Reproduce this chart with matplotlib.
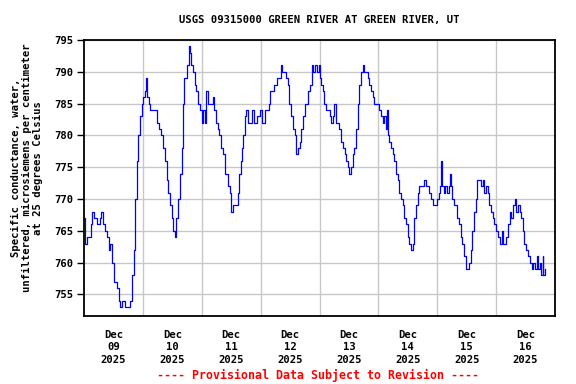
import matplotlib
matplotlib.use("Agg")
import matplotlib.pyplot as plt

# hours since 2025-12-09 00:00 and specific conductance (uS/cm)
hours = [0.0, 0.3, 1.4, 2.0, 2.7, 3.4, 4.0, 5.4, 6.5, 7.1, 7.8, 8.4, 9.4, 10.1, 10.8,
         11.5, 12.1, 12.8, 13.5, 14.2, 14.8, 15.5, 16.2, 16.8, 18.2, 18.9, 19.5, 20.2,
         20.9, 21.6, 22.2, 22.9, 23.6, 24.0, 24.7, 25.2, 25.6, 26.3, 27.0, 28.3, 29.7,
         30.7, 31.3, 32.4, 33.0, 33.7, 34.4, 35.0, 35.7, 36.4, 37.1, 37.7, 38.4, 39.1,
         39.8, 40.4, 40.8, 41.8, 42.6, 43.1, 43.8, 44.5, 45.2, 45.8, 46.5, 47.2,
         48.0, 48.6, 49.4, 49.9, 50.6, 51.7, 52.4, 53.1, 53.8, 54.5, 55.2, 55.9, 56.6,
         57.3, 58.0, 58.7, 59.4, 60.1, 60.8, 61.9, 62.6, 63.3, 63.8, 64.4, 64.9, 65.5,
         65.9, 67.0, 68.4, 69.1, 70.5, 71.9, 72.6, 73.9, 75.3, 76.0, 77.4, 78.8, 80.2,
         80.9, 82.3, 83.0, 83.7, 84.4, 85.2, 85.9, 86.6, 87.2, 87.9, 88.6, 89.3, 90.0,
         90.7, 91.4, 92.1, 92.8, 93.5, 94.2, 94.9, 95.6, 96.2,
         96.7, 97.4, 98.0, 98.7, 100.1, 100.7, 101.4, 102.1, 102.8, 103.5, 104.1,
         104.8, 105.5, 106.2, 106.8, 107.5, 108.2, 108.9, 109.6, 110.2, 110.9, 111.6,
         112.3, 113.0, 113.6, 114.3, 115.0, 115.7, 116.3, 117.0, 117.7, 118.4, 119.7,
         120.4, 121.1, 121.8, 122.4, 123.1, 123.5, 123.8, 124.5, 125.2, 125.8, 126.5,
         127.2, 127.9, 128.5, 129.2, 129.9, 130.6, 131.3, 131.9, 132.6, 133.3, 134.0,
         134.6, 135.3, 136.0, 136.7, 138.0, 138.7, 139.4, 140.1, 140.7, 141.4, 142.1,
         142.8, 143.2, 143.9, 144.6, 145.2, 145.7, 146.0, 146.6, 147.3, 148.0, 148.7,
         149.4, 149.8, 150.1, 150.8, 151.4, 152.1, 152.8, 153.5, 154.2, 154.9, 155.6,
         156.3, 157.0, 157.7, 158.3, 159.0, 159.7, 160.4, 161.1, 161.8, 162.5, 163.2,
         163.9, 164.5, 165.2, 165.9, 166.6, 167.3, 168.0, 168.7, 169.4, 170.1, 170.5,
         171.0, 171.9, 172.8, 173.5, 174.2, 174.9, 175.6, 176.2, 176.9, 177.6, 178.1,
         178.8, 179.3, 180.1, 181.1, 181.8, 182.5, 183.2, 183.9, 184.8, 185.2, 185.9,
         186.3, 187.0, 187.3, 188.0]
values = [767, 763, 764, 764, 766, 768, 767, 766, 767, 768, 766, 765, 764, 762, 763,
          760, 757, 757, 756, 754, 753, 754, 754, 753, 753, 754, 758, 762,
          770, 776, 780, 783, 785, 786, 787, 789, 786, 785, 784, 784, 782,
          781, 780, 778, 776, 773, 771, 769, 767, 765, 764, 767, 770, 774,
          778, 785, 789, 791, 794, 793, 791, 790, 788, 787, 785, 784,
          782, 784, 782, 787, 785, 785, 786, 784, 782, 781, 780, 778, 777,
          774, 774, 772, 771, 768, 769, 769, 771, 774, 776, 778, 780, 783,
          784, 782, 784, 782, 783, 784, 782, 784, 785, 787, 788, 789, 791,
          790, 789, 788, 785, 783, 781, 780, 777, 778, 779, 781, 783, 785,
          785, 787, 788, 791, 790, 791, 790, 791, 789,
          788, 787, 785, 784, 783, 782, 783, 785, 782, 782, 781,
          779, 778, 777, 776, 775, 774, 775, 777, 778, 781, 785,
          788, 790, 791, 790, 790, 789, 788, 787, 786, 785, 785,
          784, 783, 782, 783, 781, 784, 780, 779, 778, 777, 776,
          774, 773, 771, 770, 769, 767, 766, 764, 763, 762, 763,
          767, 769, 771, 772, 772, 773, 772, 772, 771, 770, 769,
          769, 769, 770, 771, 772, 776, 772, 771, 772, 771, 772,
          774, 772, 770, 769, 769, 767, 766, 764, 763, 761, 759,
          759, 760, 762, 765, 768, 770, 773, 773, 772, 773, 771,
          772, 771, 769, 768, 767, 766, 765, 764, 763, 763, 765,
          763, 764, 766, 768, 767, 769, 770, 768, 769, 768, 767,
          765, 763, 762, 761, 760, 759, 760, 759, 761, 759, 760,
          758, 761, 758, 759]

day_labels = ["Dec\n09\n2025", "Dec\n10\n2025", "Dec\n11\n2025", "Dec\n12\n2025",
              "Dec\n13\n2025", "Dec\n14\n2025", "Dec\n15\n2025", "Dec\n16\n2025"]
y_ticks = [755, 760, 765, 770, 775, 780, 785, 790, 795]

mono = "DejaVu Sans Mono"
fs = 7.6

fig = plt.figure(figsize=(5.76, 3.84), dpi=100)
ax = fig.add_axes([84 / 576, 1 - 316 / 384, 471 / 576, 276 / 384])

ax.plot(hours, values, color="#0000ff", lw=0.9, drawstyle="steps-post")

ax.set_xlim(0, 192)
ax.set_ylim(751.6, 795)

# gridlines at midnight, labels at noon
ax.set_xticks([24 * i for i in range(1, 8)])
ax.set_xticks([24 * i + 12 for i in range(8)], minor=True)
ax.set_xticklabels([""] * 7)
ax.set_xticklabels(day_labels, minor=True, family=mono, weight="bold", fontsize=fs,
                   linespacing=1.3)
ax.tick_params(axis="x", which="both", length=0, pad=10)

ax.set_yticks(y_ticks)
ax.set_yticklabels([str(v) for v in y_ticks], family=mono, weight="bold", fontsize=fs)
ax.tick_params(axis="y", length=5, width=1, direction="out", pad=3)

ax.grid(True, which="major", color="#c8c8c8", lw=1)
ax.set_axisbelow(True)
for s in ax.spines.values():
    s.set_linewidth(1.3)

ax.set_title("USGS 09315000 GREEN RIVER AT GREEN RIVER, UT", family=mono,
             weight="bold", fontsize=fs, pad=12)
fig.text(27 / 576, 1 - 168 / 384,
         "Specific conductance, water,\nunfiltered, microsiemens per centimeter\nat 25 degrees Celsius",
         family=mono, weight="bold", fontsize=fs, linespacing=1.15, rotation=90,
         ha="center", va="center", multialignment="center")

fig.text(318 / 576, 1 - 375 / 384, "---- Provisional Data Subject to Revision ----",
         color="red", family=mono, weight="bold", fontsize=8.4, ha="center", va="center")

fig.savefig("out.png", dpi=100)
